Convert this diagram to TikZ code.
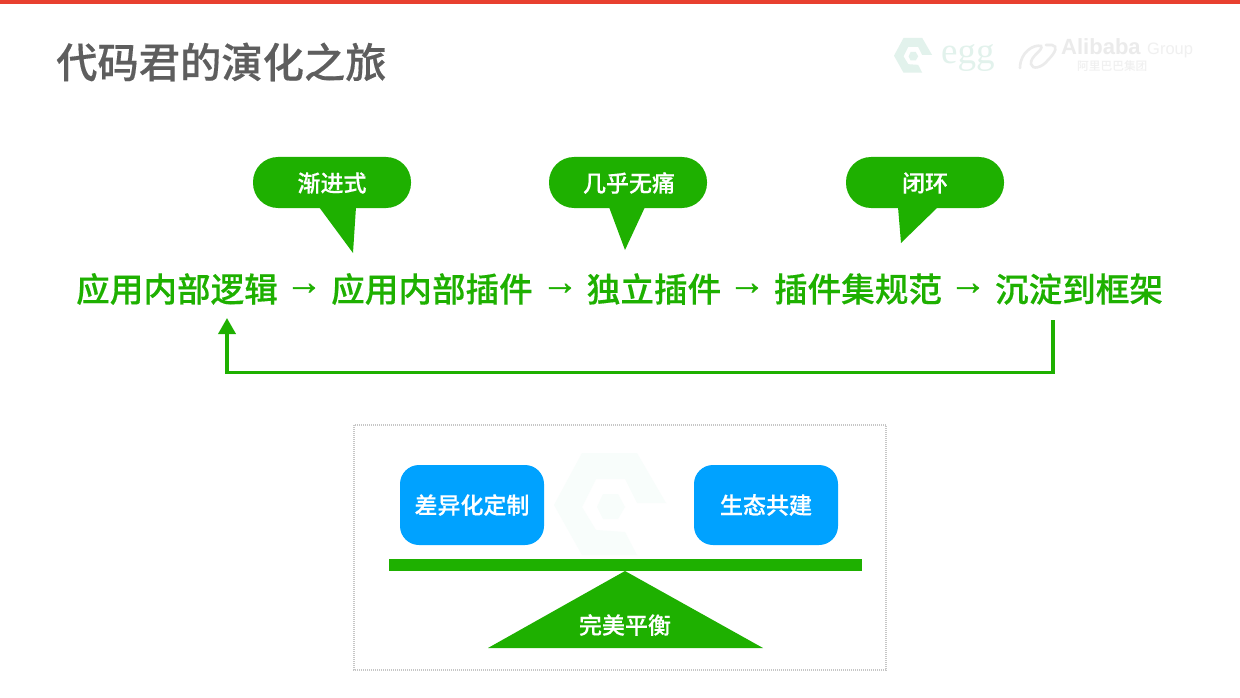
\documentclass[tikz,border=0pt]{standalone}
\usepackage{fontspec}
\setmainfont{Noto Sans CJK SC Medium}
\newfontfamily\heavy[FakeBold=0.35]{Noto Sans CJK SC Medium}
\newfontfamily\latinf{Liberation Sans}
\newfontfamily\arrowf[FakeBold=1]{Liberation Sans}
\newfontfamily\latins{Liberation Serif}
\usetikzlibrary{arrows.meta}
\definecolor{gr}{HTML}{1EB000}
\definecolor{bl}{HTML}{00A2FF}
\definecolor{ttl}{HTML}{5E5E5E}
\definecolor{topbar}{HTML}{E8402F}
\definecolor{pale}{HTML}{F8FDFB}
\definecolor{logog}{HTML}{E2F2EC}
\definecolor{logoh}{HTML}{EBEBEB}
\definecolor{logoi}{HTML}{F0F0F0}
\tikzset{
 x=1pt,y=-1pt,
 stage/.style={text=gr,font=\heavy\fontsize{33.6}{36}\selectfont,inner sep=0pt,anchor=center},
 flow/.style={text=gr,font=\arrowf\fontsize{37}{40}\selectfont,inner sep=0pt,anchor=center},
 bubtext/.style={text=white,font=\heavy\fontsize{23}{26}\selectfont,inner sep=0pt},
 bub/.style={fill=gr,draw=none},
 bluebox/.style={fill=bl,rounded corners=19pt,minimum width=144pt,minimum height=80pt,inner sep=0pt,text=white,font=\heavy\fontsize{23}{26}\selectfont},
}
\def\hexlogo{(28,0) -- (83,0) -- (112,50) -- (83,50) -- (71,26) -- (42,26) -- (28,54) -- (42,77) -- (71,79) -- (83,102) -- (28,102) -- (0,52) -- cycle}
\def\hexcore{(43,54) -- (49,41) -- (64,41) -- (71,54) -- (64,66) -- (49,66) -- cycle}
\begin{document}
\begin{tikzpicture}
\useasboundingbox (0,0) rectangle (1240,698);
\fill[white] (0,0) rectangle (1240,698);
\fill[topbar] (0,0) rectangle (1240,4);
\node[anchor=west,inner sep=0pt,text=ttl,font=\heavy\fontsize{41.3}{44}\selectfont] (title) at (56,62) {代码君的演化之旅};
% logos
\begin{scope}[shift={(894,38)},scale=0.34]
\fill[logog] \hexlogo;
\fill[logog] \hexcore;
\end{scope}
\node[anchor=base west,inner sep=0pt,text=logog,font=\latins\fontsize{37}{40}\selectfont] (egg) at (941,64) {egg};
\draw[logoh,line width=2.6pt,line cap=round] (1020,68) .. controls (1020,52) and (1034,44) .. (1041,46) .. controls (1044,50) and (1030,56) .. (1031,64) .. controls (1032,70) and (1042,68) .. (1048,60) .. controls (1056,52) and (1058,46) .. (1052,45) -- (1046,45);
\node[anchor=base west,inner sep=0pt,text=logoh,font=\latinf\fontsize{22}{24}\selectfont\bfseries] (ali) at (1061,55) {Alibaba};
\node[anchor=base west,inner sep=0pt,text=logoi,font=\latinf\fontsize{16.5}{20}\selectfont] (grp) at (1147,55) {Group};
\node[anchor=west,inner sep=0pt,text=logoi,font=\fontsize{11.7}{13}\selectfont] (cn) at (1077,66) {阿里巴巴集团};
% bubbles
\fill[bub,rounded corners=25pt] (253,157) rectangle (411,208);
\fill[bub] (319,207) -- (356,207) -- (353,253) -- cycle;
\node[bubtext] (b1) at (332,183) {渐进式};
\fill[bub,rounded corners=25pt] (549,157) rectangle (707,208);
\fill[bub] (609,207) -- (645,207) -- (625,250) -- cycle;
\node[bubtext] (b2) at (629,183) {几乎无痛};
\fill[bub,rounded corners=25pt] (846,157) rectangle (1004,208);
\fill[bub] (898,207) -- (938,207) -- (901,243) -- cycle;
\node[bubtext] (b3) at (925,183) {闭环};
% stages
\node[stage] (s1) at (177,289) {应用内部逻辑};
\node[stage] (s2) at (432,289) {应用内部插件};
\node[stage] (s3) at (654,289) {独立插件};
\node[stage] (s4) at (858,289) {插件集规范};
\node[stage] (s5) at (1079,289) {沉淀到框架};
\node[flow] (a1) at (304,289) {→};
\node[flow] (a2) at (560,289) {→};
\node[flow] (a3) at (747,289) {→};
\node[flow] (a4) at (968,289) {→};
% return
\coordinate (rs) at (1053,320);
\coordinate (re) at (227,318);
\draw[gr,line width=3.6pt,-{Triangle[length=16pt,width=17pt]}] (rs) -- (1053,372.5) -- (227,372.5) -- (re);
% balance panel
\draw[gray!45,dash pattern=on 1pt off 1pt,line width=1.2pt] (354,425) rectangle (886,670);
\begin{scope}[shift={(554,453)}]
\fill[pale] \hexlogo;
\fill[pale] \hexcore;
\end{scope}
\node[bluebox] (d1) at (472,505) {差异化定制};
\node[bluebox] (d2) at (766,505) {生态共建};
\fill[gr] (389,559) rectangle (862,571);
\fill[gr] (625,571) -- (763,648) -- (488,648) -- cycle;
\node[bubtext] (d3) at (625,625) {完美平衡};
\end{tikzpicture}
\end{document}
